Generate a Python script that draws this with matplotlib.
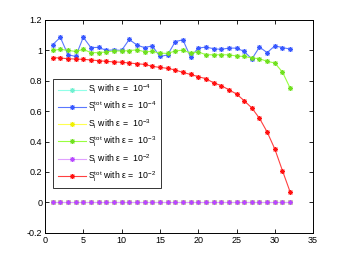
import numpy as np
import matplotlib
matplotlib.use('Agg')
import matplotlib.pyplot as plt

# x positions (index i)
idx = list(range(1, 33))

# S_i values (all at zero)
si_1e4 = [0, 0, 0, 0, 0, 0, 0, 0, 0, 0, 0, 0, 0, 0, 0, 0,
          0, 0, 0, 0, 0, 0, 0, 0, 0, 0, 0, 0, 0, 0, 0, 0]
si_1e3 = [0, 0, 0, 0, 0, 0, 0, 0, 0, 0, 0, 0, 0, 0, 0, 0,
          0, 0, 0, 0, 0, 0, 0, 0, 0, 0, 0, 0, 0, 0, 0, 0]
si_1e2 = [0, 0, 0, 0, 0, 0, 0, 0, 0, 0, 0, 0, 0, 0, 0, 0,
          0, 0, 0, 0, 0, 0, 0, 0, 0, 0, 0, 0, 0, 0, 0, 0]

# total indices
stot_1e4 = [1.037, 1.086, 0.972, 0.960, 1.086, 1.018, 1.020, 1.000,
            1.003, 1.000, 1.072, 1.035, 1.018, 1.030, 0.960, 0.970,
            1.057, 1.070, 0.956, 1.015, 1.022, 1.011, 1.007, 1.015,
            1.015, 0.993, 0.943, 1.022, 0.985, 1.030, 1.018, 1.009]
stot_1e3 = [1.000, 1.007, 1.000, 0.993, 1.007, 0.985, 0.985, 0.990,
            0.996, 0.996, 0.998, 1.004, 0.991, 0.993, 0.982, 0.980,
            0.996, 1.002, 0.982, 0.991, 0.971, 0.971, 0.971, 0.971,
            0.963, 0.960, 0.950, 0.945, 0.928, 0.917, 0.857, 0.752]
stot_1e2 = [0.952, 0.950, 0.945, 0.943, 0.941, 0.937, 0.932, 0.928,
            0.924, 0.922, 0.917, 0.912, 0.908, 0.895, 0.888, 0.882,
            0.871, 0.855, 0.842, 0.827, 0.814, 0.787, 0.768, 0.741,
            0.713, 0.669, 0.621, 0.553, 0.463, 0.351, 0.208, 0.068]

plt.rcParams['font.family'] = ['Liberation Sans', 'DejaVu Sans']
plt.rcParams['mathtext.fontset'] = 'custom'
plt.rcParams['mathtext.rm'] = 'Liberation Sans'
plt.rcParams['mathtext.it'] = 'Liberation Sans'

fig = plt.figure(figsize=(3.46, 2.63), dpi=100)
ax = fig.add_axes([0.130, 0.115, 0.775, 0.809])

star = (8, 2, 0)
series = [
    (si_1e4, '#90ffe8', '#70f0d0', r'S$_\mathregular{i}$ with ε =  10$^{-4}$'),
    (stot_1e4, '#5a78ff', '#3858ff', r'S$_\mathregular{i}^\mathregular{tot}$ with ε =  10$^{-4}$'),
    (si_1e3, '#ffff50', '#f0f000', r'S$_\mathregular{i}$ with ε =  10$^{-3}$'),
    (stot_1e3, '#98ff40', '#70e020', r'S$_\mathregular{i}^\mathregular{tot}$ with ε =  10$^{-3}$'),
    (si_1e2, '#e0a0ff', '#b848ff', r'S$_\mathregular{i}$ with ε =  10$^{-2}$'),
    (stot_1e2, '#ff4040', '#ff1010', r'S$_\mathregular{i}^\mathregular{tot}$ with ε =  10$^{-2}$'),
]
for vals, lc, mc, lab in series:
    ax.plot(idx, vals, color=lc, linewidth=0.8, marker=star, markersize=3.6,
            markeredgecolor=mc, markerfacecolor=mc, markeredgewidth=0.7, label=lab)

ax.set_xlim(0, 35)
ax.set_ylim(-0.2, 1.2)
ax.set_xticks([0, 5, 10, 15, 20, 25, 30, 35])
ax.set_yticks([-0.2, 0, 0.2, 0.4, 0.6, 0.8, 1.0, 1.2])
ax.set_yticklabels(['-0.2', '0', '0.2', '0.4', '0.6', '0.8', '1', '1.2'])
ax.tick_params(direction='in', top=True, right=True, labelsize=6.5, length=3, width=0.6, pad=2)
for sp in ax.spines.values():
    sp.set_linewidth(0.7)

leg = ax.legend(loc='upper left', bbox_to_anchor=(0.031, 0.724), borderaxespad=0,
                fontsize=6.3, frameon=True, fancybox=False, edgecolor='black',
                handlelength=3.2, labelspacing=0.42, borderpad=0.5, handletextpad=0.3)
leg.get_frame().set_linewidth(0.7)

fig.savefig('out.png', dpi=100)
